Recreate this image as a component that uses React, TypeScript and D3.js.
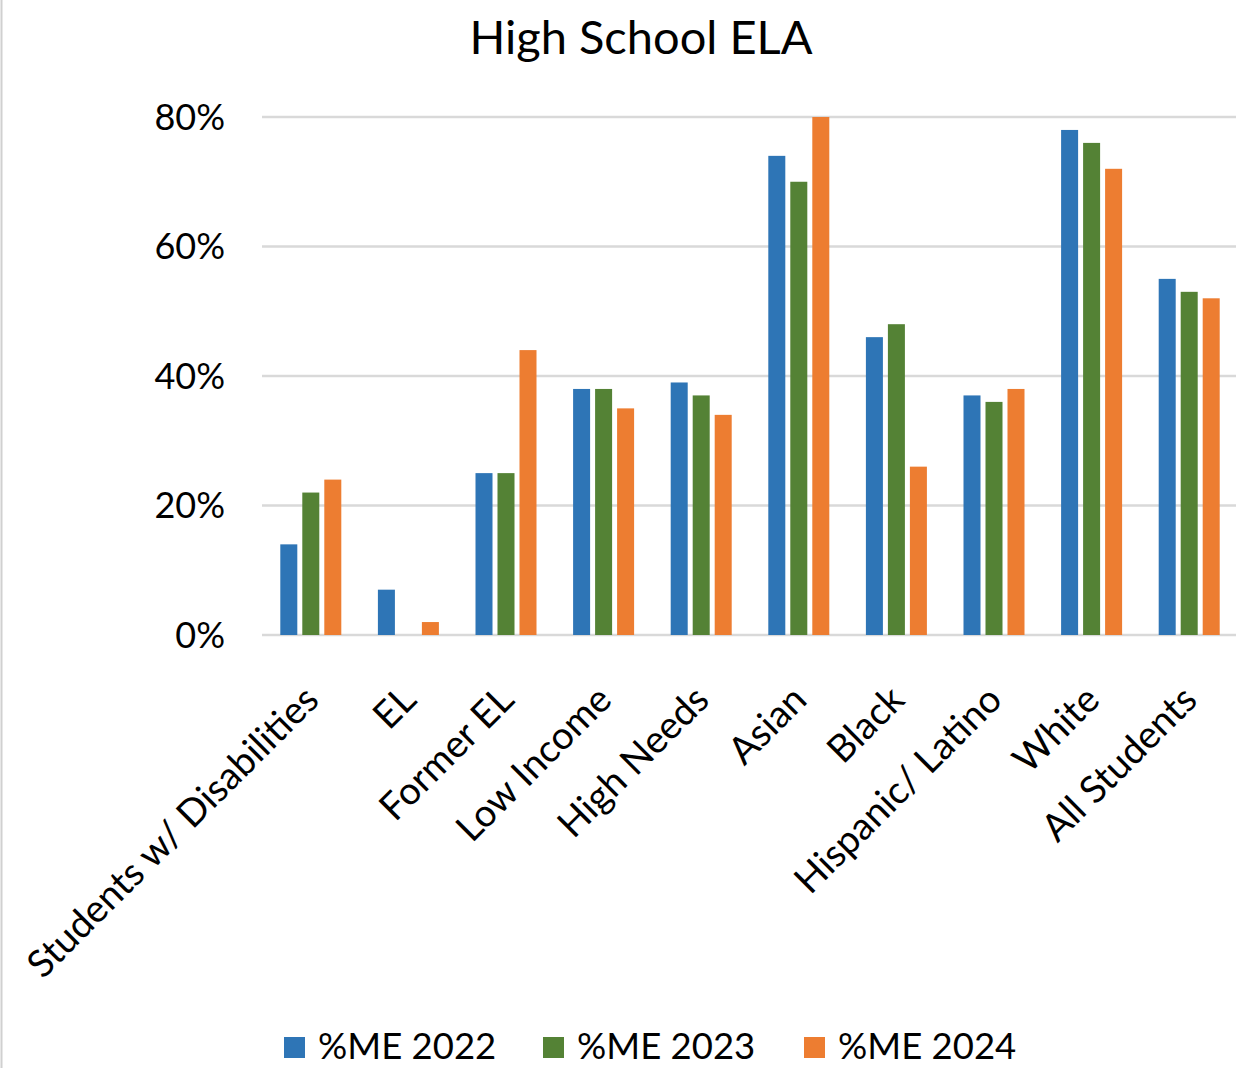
import React from "react";
import * as d3 from "d3";

const categories = [
  "Students w/ Disabilities",
  "EL",
  "Former EL",
  "Low Income",
  "High Needs",
  "Asian",
  "Black",
  "Hispanic/ Latino",
  "White",
  "All Students",
];

const seriesNames = ["%ME 2022", "%ME 2023", "%ME 2024"];

const me2022 = [14, 7, 25, 38, 39, 74, 46, 37, 78, 55];
const me2023 = [22, 0, 25, 38, 37, 70, 48, 36, 76, 53];
const me2024 = [24, 2, 44, 35, 34, 80, 26, 38, 72, 52];

const seriesValues = [me2022, me2023, me2024];
const seriesColors = ["#2E75B6", "#548235", "#ED7D31"];

const yTicks = [0, 20, 40, 60, 80];

const W = 1236;
const H = 1068;
const FONT = "Lato, 'Open Sans', sans-serif";

export default function App() {
  const x0 = d3.scaleBand<string>().domain(categories).range([262, 1238]).padding(0);
  const x1 = d3.scaleBand<string>().domain(seriesNames).range([-30.5, 30.5]).paddingInner(0.227);
  const y = d3.scaleLinear().domain([0, 80]).range([635, 117]);

  return (
    <svg
      width={W}
      height={H}
      style={{ position: "absolute", left: 0, top: 0, background: "#fff" }}
      fontFamily={FONT}
    >
      <rect x={0} y={0} width={W} height={H} fill="#fff" />
      <line x1={1.5} x2={1.5} y1={0} y2={H} stroke="#D0D0D0" strokeWidth={2} />

      <text x={641} y={54} textAnchor="middle" fontSize={47} fill="#000">
        High School ELA
      </text>

      {yTicks.map((t) => (
        <g key={t}>
          <line x1={262} x2={1238} y1={y(t)} y2={y(t)} stroke="#D9D9D9" strokeWidth={2.5} />
          <text x={225} y={y(t)} dy="0.35em" textAnchor="end" fontSize={36} fill="#000">
            {t}%
          </text>
        </g>
      ))}

      {categories.map((c, i) => {
        const cx = (x0(c) ?? 0) + x0.bandwidth() / 2;
        return (
          <g key={c}>
            {seriesNames.map((s, j) => {
              const v = seriesValues[j][i];
              if (v <= 0) return null;
              return (
                <rect
                  key={s}
                  x={cx + (x1(s) ?? 0)}
                  y={y(v)}
                  width={x1.bandwidth()}
                  height={y(0) - y(v)}
                  fill={seriesColors[j]}
                />
              );
            })}
            <text
              transform={`translate(${cx + 10},${702}) rotate(-45)`}
              textAnchor="end"
              fontSize={38}
              fill="#000"
            >
              {c}
            </text>
          </g>
        );
      })}

      {seriesNames.map((s, j) => {
        const lx = [284, 543, 804][j];
        return (
          <g key={s}>
            <rect x={lx} y={1037} width={21} height={21} fill={seriesColors[j]} />
            <text x={lx + 34} y={1059} fontSize={36.5} fill="#000">
              {s}
            </text>
          </g>
        );
      })}
    </svg>
  );
}
